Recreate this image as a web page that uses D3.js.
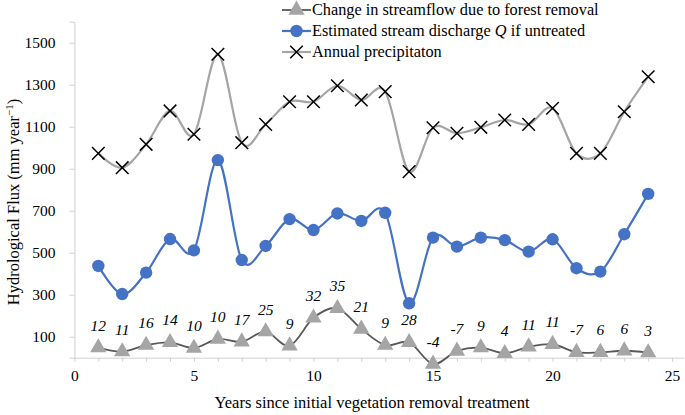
<!DOCTYPE html>
<html>
<head>
<meta charset="utf-8">
<script src="https://cdn.jsdelivr.net/npm/d3@7"></script>
<style>
  html, body { margin: 0; padding: 0; background: #fff; }
  svg { display: block; }
  text { font-family: "Liberation Serif", "Times New Roman", serif; fill: #000; }
</style>
</head>
<body>
<svg id="chart" width="685" height="415"></svg>
<script>
// ---- data ----
const years = [1,2,3,4,5,6,7,8,9,10,11,12,13,14,15,16,17,18,19,20,21,22,23,24];
const changeFlow = [48,29,60,73,46,89,76,124,57,190,235,137,60,73,-30,32,48,21,52,64,26,26,33,24];
const dischargeQ = [437,303,405,565,511,941,465,532,660,608,687,651,690,259,572,529,572,560,505,564,426,410,588,780];
const precip = [973,905,1016,1175,1064,1445,1024,1111,1219,1219,1295,1227,1267,886,1095,1069,1097,1132,1111,1188,973,973,1171,1338];
const pctLabels = ["12","11","16","14","10","10","17","25","9","32","35","21","9","28","-4","-7","9","4","11","11","-7","6","6","3"];
const xTicks = [0,5,10,15,20,25];
const yTicks = [100,300,500,700,900,1100,1300,1500];
const seriesNames = ["Change in streamflow due to forest removal","Estimated stream discharge ","Annual precipitaton"];

const svg = d3.select("#chart");
const x = d3.scaleLinear().domain([0,25]).range([74.4, 672.1]);
const y = d3.scaleLinear().domain([0,1600]).range([357.7, 21.7]);
const axisColor = "#d0d0d0";
const serif = "Liberation Serif, Times New Roman, serif";

// axes
const yAxis = svg.append("g").attr("transform", `translate(${x(0)},0)`)
  .call(d3.axisLeft(y).tickValues(yTicks).tickSize(5).tickPadding(14).tickFormat(d3.format("d")));
yAxis.attr("font-family", serif);
yAxis.select(".domain").attr("stroke", axisColor);
yAxis.selectAll(".tick line").attr("stroke", axisColor);
yAxis.selectAll(".tick text").style("font-size","15.5px");

const xAxis = svg.append("g").attr("transform", `translate(0,${y(0)})`)
  .call(d3.axisBottom(x).ticks(25).tickSize(4).tickFormat(""));
xAxis.select(".domain").attr("stroke", axisColor).attr("d", `M${x(0)},0.5H684`);
xAxis.selectAll(".tick line").attr("stroke", axisColor);
const xLab = svg.append("g").attr("transform", `translate(0,${y(0)})`)
  .call(d3.axisBottom(x).tickValues(xTicks).tickSize(0).tickPadding(12).tickFormat(d3.format("d")));
xLab.attr("font-family", serif);
xLab.select(".domain").remove();
xLab.selectAll(".tick text").style("font-size","15.5px");

// axis titles
svg.append("text").attr("x", 372).attr("y", 408).attr("text-anchor","middle")
  .style("font-size","16.5px").text("Years since initial vegetation removal treatment");
const yt = svg.append("text").attr("transform","translate(19,202) rotate(-90)").attr("text-anchor","middle")
  .style("font-size","16.5px");
yt.append("tspan").text("Hydrological Flux (mm year");
yt.append("tspan").attr("dy",-6).style("font-size","11px").text("−1");
yt.append("tspan").attr("dy",6).text(")");

const curve = d3.curveCardinal.tension(0);
const line = vals => d3.line().x((d,i)=>x(years[i])).y(d=>y(d)).curve(curve)(vals);

// precipitation
svg.append("path").attr("d", line(precip)).attr("fill","none").attr("stroke","#a5a5a5").attr("stroke-width",2.2);
const xMark = (g, cx, cy, s) => g.append("path")
  .attr("d", `M${cx-s},${cy-s}L${cx+s},${cy+s}M${cx-s},${cy+s}L${cx+s},${cy-s}`)
  .attr("stroke","#000").attr("stroke-width",1.5).attr("fill","none");
const gP = svg.append("g");
precip.forEach((v,i)=> xMark(gP, x(years[i]), y(v), 6.3));

// discharge
svg.append("path").attr("d", line(dischargeQ)).attr("fill","none").attr("stroke","#4472c4").attr("stroke-width",2.2);
svg.append("g").selectAll("circle").data(dischargeQ).join("circle")
  .attr("cx",(d,i)=>x(years[i])).attr("cy",d=>y(d)).attr("r",6.2).attr("fill","#4472c4");

// change in streamflow
svg.append("path").attr("d", line(changeFlow)).attr("fill","none").attr("stroke","#595959").attr("stroke-width",1.8);
const tri = d3.symbol().type(d3.symbolTriangle).size(115);
svg.append("g").selectAll("path").data(changeFlow).join("path")
  .attr("d", tri).attr("transform",(d,i)=>`translate(${x(years[i])},${y(d)})`).attr("fill","#a5a5a5");
svg.append("g").selectAll("text").data(changeFlow).join("text")
  .attr("x",(d,i)=>x(years[i])).attr("y",d=>y(d)-17).attr("text-anchor","middle")
  .style("font-size","15.5px").style("font-style","italic").text((d,i)=>pctLabels[i]);

// legend
const lg = svg.append("g");
const lx0 = 282, lx1 = 311, rows = [10, 31, 52];
lg.append("line").attr("x1",lx0).attr("x2",lx1).attr("y1",rows[0]).attr("y2",rows[0]).attr("stroke","#595959").attr("stroke-width",1.8);
lg.append("path").attr("d",tri).attr("transform",`translate(${(lx0+lx1)/2},${rows[0]})`).attr("fill","#a5a5a5");
lg.append("line").attr("x1",lx0).attr("x2",lx1).attr("y1",rows[1]).attr("y2",rows[1]).attr("stroke","#4472c4").attr("stroke-width",2.2);
lg.append("circle").attr("cx",(lx0+lx1)/2).attr("cy",rows[1]).attr("r",6.2).attr("fill","#4472c4");
lg.append("line").attr("x1",lx0).attr("x2",lx1).attr("y1",rows[2]).attr("y2",rows[2]).attr("stroke","#a5a5a5").attr("stroke-width",2.2);
xMark(lg, (lx0+lx1)/2, rows[2], 6.3);
lg.append("text").attr("x",lx1+1).attr("y",rows[0]+5).style("font-size","16.3px").text(seriesNames[0]);
const t2 = lg.append("text").attr("x",lx1+1).attr("y",rows[1]+5).style("font-size","16.3px");
t2.append("tspan").text(seriesNames[1]);
t2.append("tspan").style("font-style","italic").text("Q");
t2.append("tspan").text(" if untreated");
lg.append("text").attr("x",lx1+1).attr("y",rows[2]+5).style("font-size","16.3px").text(seriesNames[2]);
</script>
</body>
</html>
